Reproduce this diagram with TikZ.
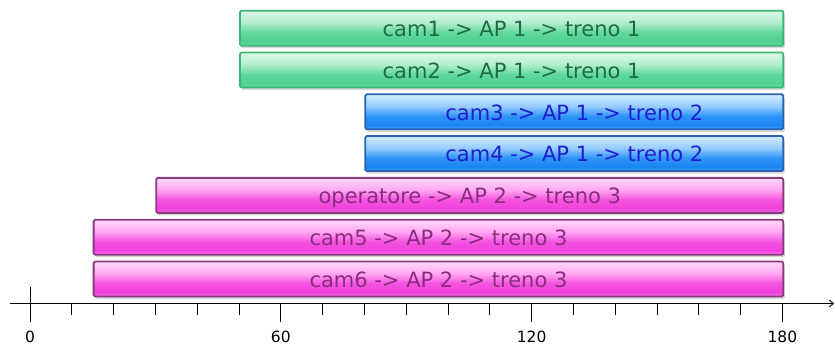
\documentclass[tikz,border=0pt]{standalone}
\usepackage{fontspec}
\setmainfont{DejaVu Sans}
\usetikzlibrary{shadows,arrows.meta}
\definecolor{gLine}{HTML}{3AB676}
\definecolor{gText}{HTML}{1F6B45}
\definecolor{bLine}{HTML}{2A62B2}
\definecolor{bText}{HTML}{1E1ED2}
\definecolor{mLine}{HTML}{873A7C}
\definecolor{mText}{HTML}{8A2C7E}
\pgfdeclareverticalshading{gshade}{100bp}{%
  color(0bp)=(green!0!white);
  color(25bp)=(rgb,255:red,110;green,220;blue,162);
  color(31bp)=(rgb,255:red,78;green,208;blue,142);
  color(44bp)=(rgb,255:red,96;green,216;blue,156);
  color(58bp)=(rgb,255:red,178;green,238;blue,207);
  color(75bp)=(rgb,255:red,222;green,248;blue,234);
  color(100bp)=(rgb,255:red,222;green,248;blue,234)}
\pgfdeclareverticalshading{bshade}{100bp}{%
  color(0bp)=(white);
  color(25bp)=(rgb,255:red,70;green,160;blue,250);
  color(31bp)=(rgb,255:red,24;green,132;blue,240);
  color(44bp)=(rgb,255:red,48;green,148;blue,246);
  color(58bp)=(rgb,255:red,150;green,204;blue,255);
  color(75bp)=(rgb,255:red,212;green,236;blue,255);
  color(100bp)=(rgb,255:red,212;green,236;blue,255)}
\pgfdeclareverticalshading{mshade}{100bp}{%
  color(0bp)=(white);
  color(25bp)=(rgb,255:red,255;green,120;blue,234);
  color(31bp)=(rgb,255:red,240;green,64;blue,220);
  color(44bp)=(rgb,255:red,244;green,84;blue,224);
  color(58bp)=(rgb,255:red,255;green,168;blue,242);
  color(75bp)=(rgb,255:red,255;green,216;blue,248);
  color(100bp)=(rgb,255:red,255;green,216;blue,248)}
\tikzset{
  barbox/.style={anchor=west, minimum height=35pt, inner sep=0pt, rounded corners=1.5pt,
    line width=1.8pt, font=\fontsize{21}{24}\selectfont, text height=16.5pt, text depth=0pt,
    drop shadow={shadow xshift=1.5pt, shadow yshift=-2.5pt, opacity=0.28, fill=black!55}},
  gbar/.style={barbox, draw=gLine, shading=gshade, text=gText},
  bbar/.style={barbox, draw=bLine, shading=bshade, text=bText},
  mbar/.style={barbox, draw=mLine, shading=mshade, text=mText},
  axisline/.style={line width=0.9pt, -{Straight Barb[length=4pt,width=7pt]}},
  tickline/.style={line width=0.9pt},
  ticklabel/.style={font=\fontsize{15.5}{18}\selectfont, inner sep=0pt}
}
\begin{document}
\begin{tikzpicture}[x=1pt,y=-1pt]
\useasboundingbox (0,0) rectangle (835,347);
% bars (x: pixel = 30 + 4.18*t)
\node[gbar, minimum width=543.4pt] (c1) at (239,28.2) {cam1 -> AP 1 -> treno 1};
\node[gbar, minimum width=543.4pt] (c2) at (239,70.0) {cam2 -> AP 1 -> treno 1};
\node[bbar, minimum width=418.0pt] (c3) at (364.4,111.8) {cam3 -> AP 1 -> treno 2};
\node[bbar, minimum width=418.0pt] (c4) at (364.4,153.6) {cam4 -> AP 1 -> treno 2};
\node[mbar, minimum width=627.0pt] (op) at (155.4,195.4) {operatore -> AP 2 -> treno 3};
\node[mbar, minimum width=689.7pt] (c5) at (92.7,237.2) {cam5 -> AP 2 -> treno 3};
\node[mbar, minimum width=689.7pt] (c6) at (92.7,279.0) {cam6 -> AP 2 -> treno 3};
% axis
\coordinate (axL) at (10,303.5);
\coordinate (axR) at (834,303.5);
\draw[axisline] (axL) -- (axR);
\draw[tickline] (30,287) -- (30,322);
\foreach \t in {1,...,17} {
  \draw[tickline] ({30+41.8*\t},303.5) -- ({30+41.8*\t},315);
}
\foreach \t/\lab in {0/0,6/60,12/120,18/180} {
  \draw[tickline] ({30+41.8*\t},303.5) -- ({30+41.8*\t},322);
  \node[ticklabel] (l\t) at ({30+41.8*\t},337) {\lab};
}
\end{tikzpicture}
\end{document}
